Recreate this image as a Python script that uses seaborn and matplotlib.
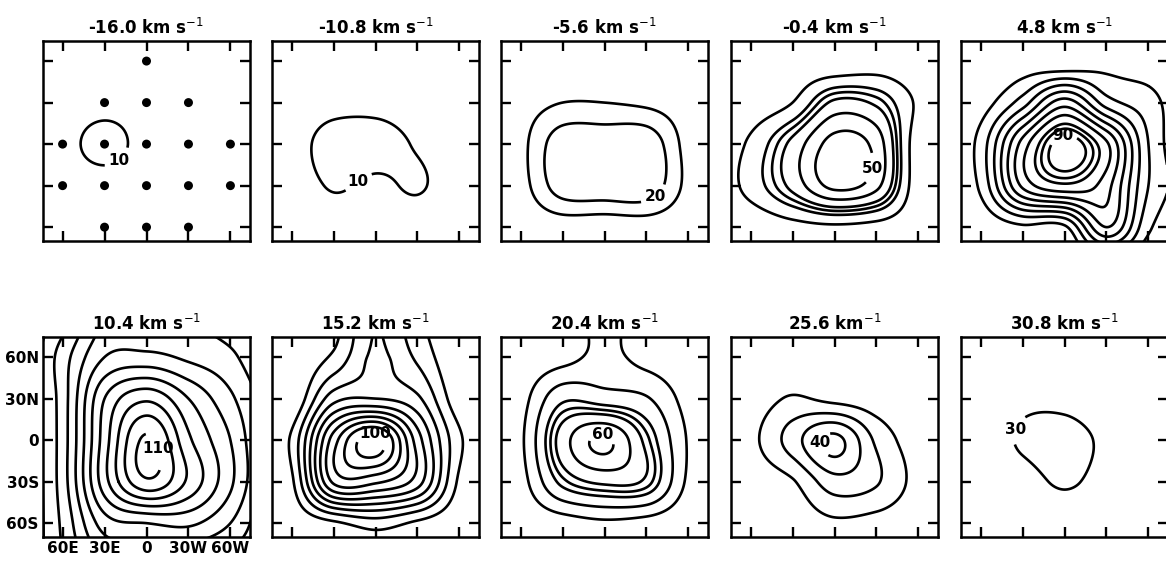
import numpy as np
import matplotlib.pyplot as plt
import seaborn as sns

# grid nodes: longitude (+ = west) and latitude, 30 deg apart
lon_nodes = np.array([-90, -60, -30, 0, 30, 60, 90])
lat_nodes = np.array([-90, -60, -30, 0, 30, 60, 90])

titles = ['-16.0 km s$^{-1}$', '-10.8 km s$^{-1}$', '-5.6 km s$^{-1}$',
          '-0.4 km s$^{-1}$', '4.8 km s$^{-1}$', '10.4 km s$^{-1}$',
          '15.2 km s$^{-1}$', '20.4 km s$^{-1}$', '25.6 km$^{-1}$',
          '30.8 km s$^{-1}$']

# station positions (first panel)
station_lon = [0, -30, 0, 30, -60, -30, 0, 30, 60, -60, -30, 0, 30, 60, -30, 0, 30]
station_lat = [60, 30, 30, 30, 0, 0, 0, 0, 0, -30, -30, -30, -30, -30, -60, -60, -60]

# brightness read at the grid nodes; rows from lat 90 (top) down to lat -90
v_m160 = [[0, 0, 0, 0, 0, 0, 0],
          [0, 2, 3, 3, 2, 1, 0],
          [1, 4, 6, 5, 3, 2, 1],
          [2, 6, 14, 6, 4, 2, 1],
          [1, 4, 5, 4, 3, 2, 1],
          [0, 2, 3, 3, 2, 1, 0],
          [0, 0, 0, 0, 0, 0, 0]]
v_m108 = [[0, 0, 0, 0, 0, 0, 0],
          [0, 1, 2, 3, 2, 1, 0],
          [1, 3, 6, 7, 5, 2, 1],
          [2, 5, 15, 14, 9, 3, 1],
          [1, 4, 11, 8, 11, 4, 1],
          [0, 2, 4, 4, 4, 2, 0],
          [0, 0, 0, 0, 0, 0, 0]]
v_m56 = [[0, 0, 0, 0, 0, 0, 0],
         [0, 1, 3, 3, 2, 1, 0],
         [1, 5, 10, 10, 8, 4, 1],
         [1, 7, 27, 28, 28, 6, 1],
         [1, 6, 26, 28, 28, 7, 1],
         [0, 2, 4, 3, 4, 2, 0],
         [0, 0, 0, 0, 0, 0, 0]]
v_m04 = [[0, 0, 0, 0, 0, 0, 0],
         [0, 1, 2, 0, 3, 1, 0],
         [1, 3, 10, 32, 28, 8, 1],
         [2, 12, 33, 54, 46, 3, 0],
         [2, 14, 33, 53, 43, 3, 0],
         [1, 2, 6, 8, 6, 2, 0],
         [0, 0, 0, 0, 0, 0, 0]]
v_48 = [[0, 0, 0, 0, 0, 0, 0],
        [0, 0, 3, 0, 6, 4, 0],
        [2, 5, 25, 55, 25, 14, 2],
        [0, 14, 64, 95, 72, 20, 2],
        [2, 12, 62, 78, 64, 20, 5],
        [0, 2, 8, 8, 50, 12, 2],
        [0, 0, 0, 0, 0, 0, 0]]
v_104 = [[0, 15, 40, 40, 40, 35, 30],
         [0, 25, 50, 53, 48, 42, 30],
         [0, 25, 70, 88, 70, 52, 35],
         [0, 25, 75, 112, 82, 60, 35],
         [0, 25, 76, 108, 88, 62, 35],
         [0, 22, 55, 60, 62, 50, 30],
         [0, 20, 40, 42, 40, 35, 30]]
v_152 = [[0, 0, 6, 30, 12, 0, 0],
         [0, 0, 12, 32, 18, 0, 0],
         [0, 0, 36, 40, 32, 3, 0],
         [0, 12, 75, 105, 55, 12, 0],
         [0, 8, 72, 72, 55, 8, 0],
         [0, 2, 8, 15, 8, 2, 0],
         [0, 0, 0, 0, 0, 0, 0]]
v_204 = [[0, 0, 2, 14, 2, 0, 0],
         [0, 2, 6, 13, 6, 2, 0],
         [0, 6, 28, 25, 21, 6, 0],
         [0, 8, 45, 62, 37, 9, 0],
         [0, 6, 33, 42, 38, 8, 0],
         [0, 2, 5, 8, 6, 2, 0],
         [0, 0, 0, 0, 0, 0, 0]]
v_256 = [[0, 0, 0, 0, 0, 0, 0],
         [0, 1, 2, 2, 1, 0, 0],
         [0, 4, 11, 7, 4, 1, 0],
         [0, 7, 25, 43, 18, 4, 0],
         [0, 3, 9, 26, 21, 6, 0],
         [0, 1, 3, 8, 6, 2, 0],
         [0, 0, 0, 0, 0, 0, 0]]
v_308 = [[0, 0, 0, 0, 0, 0, 0],
         [0, 2, 5, 5, 3, 1, 0],
         [0, 6, 22, 22, 12, 4, 0],
         [0, 10, 34, 40, 24, 6, 0],
         [0, 6, 18, 34, 18, 5, 0],
         [0, 2, 6, 8, 5, 2, 0],
         [0, 0, 0, 0, 0, 0, 0]]

grids = [v_m160, v_m108, v_m56, v_m04, v_48, v_104, v_152, v_204, v_256, v_308]
levels = [[10], [10], [10, 20], [10, 20, 25, 30, 40, 50],
          [10, 20, 30, 40, 50, 60, 70, 80, 85, 90],
          [10, 20, 30, 40, 50, 60, 70, 80, 90, 100, 110],
          [10, 20, 30, 40, 50, 60, 70, 80, 90, 100],
          [10, 20, 30, 35, 40, 50, 60], [10, 20, 30, 40], [30]]
label_levels = [10, 10, 20, 50, 90, 110, 100, 60, 40, 30]
label_spots = [(-18, -14), (-13, -26), (33, -33), (18, -16), (0, 1),
               (3, -8), (0, 6), (-1, 7), (-10, -2), (-40, 10)]


def cubic_weights(nodes, fine):
    # Catmull-Rom weights, only used to draw smooth contours
    h = nodes[1] - nodes[0]
    W = np.zeros((len(fine), len(nodes)))
    for k, t in enumerate(fine):
        s = (t - nodes[0]) / h
        i = min(int(np.floor(s)), len(nodes) - 2)
        u = s - i
        w = [(-u**3 + 2*u**2 - u) / 2, (3*u**3 - 5*u**2 + 2) / 2,
             (-3*u**3 + 4*u**2 + u) / 2, (u**3 - u**2) / 2]
        for j, wj in zip(range(i - 1, i + 3), w):
            W[k, min(max(j, 0), len(nodes) - 1)] += wj
    return W


fine = np.linspace(-90, 90, 181)
Wx = cubic_weights(lon_nodes, fine)
Wy = cubic_weights(lat_nodes, fine)

sns.set_style("ticks")
plt.rcParams['font.family'] = ['DejaVu Sans']
plt.rcParams.update({'text.color': 'black', 'axes.edgecolor': 'black',
                     'xtick.color': 'black', 'ytick.color': 'black'})

fig = plt.figure(figsize=(11.66, 5.69), dpi=100)
W_px, H_px = 1166, 569
lefts = [43, 272, 501, 731, 961]
tops = [41, 337]

for n in range(10):
    r, c = divmod(n, 5)
    ax = fig.add_axes([lefts[c] / W_px, 1 - (tops[r] + 200) / H_px, 207 / W_px, 200 / H_px])
    G = np.array(grids[n], dtype=float)[::-1]
    Z = Wy @ G @ Wx.T
    other = [lv for lv in levels[n] if lv != label_levels[n]]
    if other:
        ax.contour(fine, fine, Z, levels=other, colors='black', linewidths=1.9)
    cs = ax.contour(fine, fine, Z, levels=[label_levels[n]], colors='black', linewidths=1.9)
    ax.clabel(cs, inline=True, fmt='%d', fontsize=11,
              manual=[label_spots[n]], inline_spacing=3)
    for t in cs.labelTexts:
        t.set_rotation(0)
        t.set_fontweight('bold')
    if n == 0:
        sns.scatterplot(x=station_lon, y=station_lat, ax=ax, color='black', s=42,
                        edgecolor='none', legend=False)
    ax.set_xlim(-74, 74)
    ax.set_ylim(-70, 74.5)
    ax.set_xticks([-60, -30, 0, 30, 60])
    ax.set_yticks([-60, -30, 0, 30, 60])
    ax.tick_params(direction='in', length=7, width=1.7, top=True, right=True,
                   labelsize=11, pad=3)
    if n == 5:
        ax.set_xticklabels(['60E', '30E', '0', '30W', '60W'], fontweight='bold')
        ax.set_yticklabels(['60S', '30S', '0', '30N', '60N'], fontweight='bold')
    else:
        ax.set_xticklabels([])
        ax.set_yticklabels([])
    for sp in ax.spines.values():
        sp.set_linewidth(1.8)
    ax.set_xlabel('')
    ax.set_ylabel('')
    ax.set_title(titles[n], fontsize=12, fontweight='bold', pad=5)

fig.savefig('out.png', dpi=100)
